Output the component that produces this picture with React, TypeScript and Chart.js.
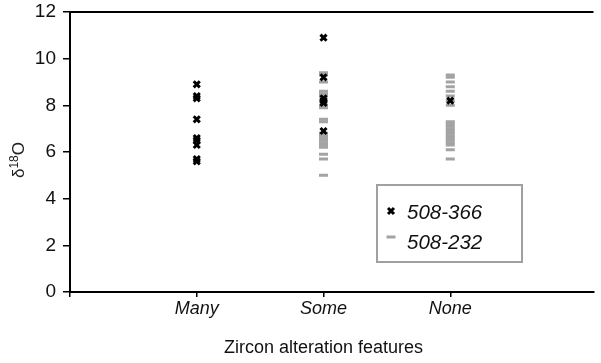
import React, { useEffect, useRef } from "react";
import { Chart, registerables } from "chart.js";

Chart.register(...registerables);

const categories = ["Many", "Some", "None"];
const yTicks = [0, 2, 4, 6, 8, 10, 12];

// 508-366 values per category
const s366Many = [8.9, 8.4, 8.3, 7.4, 6.6, 6.5, 6.3, 5.7, 5.6];
const s366Some = [10.9, 9.2, 8.3, 8.2, 8.1, 6.9];
const s366None = [8.2];

// 508-232 values per category
const s232Many: number[] = [];
const s232Some = [9.4, 9.3, 9.0, 8.6, 8.5, 8.4, 8.2, 8.0, 7.9, 7.4, 7.3, 6.8, 6.7, 6.6, 6.5, 6.4, 6.3, 6.2, 5.9, 5.7, 5.0];
const s232None = [9.3, 9.2, 9.0, 8.8, 8.6, 8.4, 8.2, 8.0, 7.3, 7.2, 7.1, 7.0, 6.9, 6.8, 6.7, 6.6, 6.5, 6.4, 6.3, 6.1, 5.7];

const seriesNames = ["508-366", "508-232"];
const yTitleParts = ["δ", "18", "O"];
const xTitle = "Zircon alteration features";

const FONT = "'Liberation Sans', Arial, Helvetica, sans-serif";
const GRAY = "#a3a3a3";

function toPoints(groups: number[][]) {
  const pts: { x: number; y: number }[] = [];
  groups.forEach((vals, i) => vals.forEach((v) => pts.push({ x: i + 1, y: v })));
  return pts;
}

const framePlugin = {
  id: "frameTop",
  afterDraw(chart: any) {
    const { ctx, chartArea } = chart;
    ctx.save();
    ctx.strokeStyle = "#000";
    ctx.lineWidth = 2;
    ctx.beginPath();
    ctx.moveTo(chartArea.left - 1, chartArea.top);
    ctx.lineTo(chartArea.right, chartArea.top);
    ctx.stroke();
    ctx.restore();
  },
};

const titlesPlugin = {
  id: "titles",
  afterDraw(chart: any) {
    const { ctx, chartArea } = chart;
    const big = `17px ${FONT}`;
    const small = `12px ${FONT}`;
    ctx.save();
    ctx.font = big;
    const w1 = ctx.measureText(yTitleParts[0]).width;
    const w3 = ctx.measureText(yTitleParts[2]).width;
    ctx.font = small;
    const w2 = ctx.measureText(yTitleParts[1]).width;
    const total = w1 + w2 + w3;
    const cy = (chartArea.top + chartArea.bottom) / 2 + 8;
    ctx.translate(24, cy);
    ctx.rotate(-Math.PI / 2);
    ctx.fillStyle = "#222";
    ctx.textBaseline = "alphabetic";
    ctx.textAlign = "left";
    let x = -total / 2;
    ctx.font = big;
    ctx.fillText(yTitleParts[0], x, 0);
    x += w1;
    ctx.font = small;
    ctx.fillText(yTitleParts[1], x, -6);
    x += w2;
    ctx.font = big;
    ctx.fillText(yTitleParts[2], x, 0);
    ctx.restore();

    // x title
    ctx.save();
    ctx.fillStyle = "#111";
    ctx.font = `18px ${FONT}`;
    ctx.textAlign = "center";
    ctx.textBaseline = "middle";
    const xs = chart.scales.x;
    const cx = (xs.getPixelForValue(1) + xs.getPixelForValue(3)) / 2;
    ctx.fillText(xTitle, cx, chartArea.bottom + 56);
    ctx.restore();
  },
};

const legendPlugin = {
  id: "boxLegend",
  afterDraw(chart: any) {
    const { ctx } = chart;
    const bx = 377, by = 185, bw = 145, bh = 77;
    ctx.save();
    ctx.fillStyle = "#fff";
    ctx.fillRect(bx, by, bw, bh);
    ctx.strokeStyle = "#a0a0a0";
    ctx.lineWidth = 2;
    ctx.strokeRect(bx, by, bw, bh);
    const mx = 391;
    ctx.strokeStyle = "#000";
    ctx.lineWidth = 3;
    const r = 3;
    const y1 = 211;
    ctx.beginPath();
    ctx.moveTo(mx - r, y1 - r);
    ctx.lineTo(mx + r, y1 + r);
    ctx.moveTo(mx + r, y1 - r);
    ctx.lineTo(mx - r, y1 + r);
    ctx.stroke();
    const y2 = 237;
    ctx.strokeStyle = GRAY;
    ctx.lineWidth = 3;
    ctx.beginPath();
    ctx.moveTo(mx - 4.5, y2);
    ctx.lineTo(mx + 4.5, y2);
    ctx.stroke();
    ctx.fillStyle = "#111";
    ctx.font = `italic 20.5px ${FONT}`;
    ctx.textBaseline = "middle";
    ctx.textAlign = "left";
    ctx.fillText(seriesNames[0], 407, 213);
    ctx.fillText(seriesNames[1], 407, 243);
    ctx.restore();
  },
};

export default function App() {
  const ref = useRef<HTMLCanvasElement | null>(null);

  useEffect(() => {
    if (!ref.current) return;
    const chart = new Chart(ref.current, {
      type: "scatter",
      data: {
        datasets: [
          {
            label: seriesNames[0],
            data: toPoints([s366Many, s366Some, s366None]),
            pointStyle: "crossRot",
            pointRadius: 4.3,
            pointBorderWidth: 3,
            borderColor: "#000",
            backgroundColor: "#000",
          },
          {
            label: seriesNames[1],
            data: toPoints([s232Many, s232Some, s232None]),
            pointStyle: "line",
            pointRadius: 4.5,
            pointBorderWidth: 3,
            borderColor: GRAY,
            backgroundColor: GRAY,
          },
        ],
      },
      options: {
        responsive: false,
        animation: false,
        events: [],
        layout: { padding: { top: 12, left: 0, right: 0, bottom: 0 } },
        plugins: {
          legend: { display: false },
          tooltip: { enabled: false },
        },
        scales: {
          x: {
            type: "linear",
            min: 0,
            max: 4.13,
            afterBuildTicks: (scale: any) => {
              scale.ticks = [0, 1, 2, 3].map((v) => ({ value: v }));
            },
            afterFit: (scale: any) => {
              scale.height = 71;
              scale.paddingLeft = 0;
              scale.paddingRight = 0;
            },
            ticks: {
              autoSkip: false,
              maxRotation: 0,
              padding: 1,
              color: "#111",
              font: { family: FONT, size: 18, style: "italic" },
              callback: (v: any) => categories[Number(v) - 1] ?? "",
            },
            grid: {
              display: true,
              drawOnChartArea: false,
              drawTicks: true,
              tickLength: 5,
              color: "#000",
              lineWidth: 1.5,
            },
            border: { display: true, color: "#000", width: 2 },
            title: { display: false },
          },
          y: {
            min: 0,
            max: 12,
            afterBuildTicks: (scale: any) => {
              scale.ticks = yTicks.map((v) => ({ value: v }));
            },
            afterFit: (scale: any) => {
              scale.width = 70;
              scale.paddingTop = 0;
              scale.paddingBottom = 0;
            },
            ticks: {
              padding: 7,
              color: "#111",
              font: { family: FONT, size: 19 },
            },
            grid: {
              display: true,
              drawOnChartArea: false,
              drawTicks: true,
              tickLength: 7,
              color: "#000",
              lineWidth: 1.5,
            },
            border: { display: true, color: "#000", width: 2 },
            title: { display: false },
          },
        },
      },
      plugins: [framePlugin, titlesPlugin, legendPlugin],
    });
    return () => chart.destroy();
  }, []);

  return (
    <div style={{ position: "fixed", left: 0, top: 0, width: 601, height: 363, background: "#fff" }}>
      <canvas ref={ref} width={601} height={363} style={{ display: "block" }} />
    </div>
  );
}
